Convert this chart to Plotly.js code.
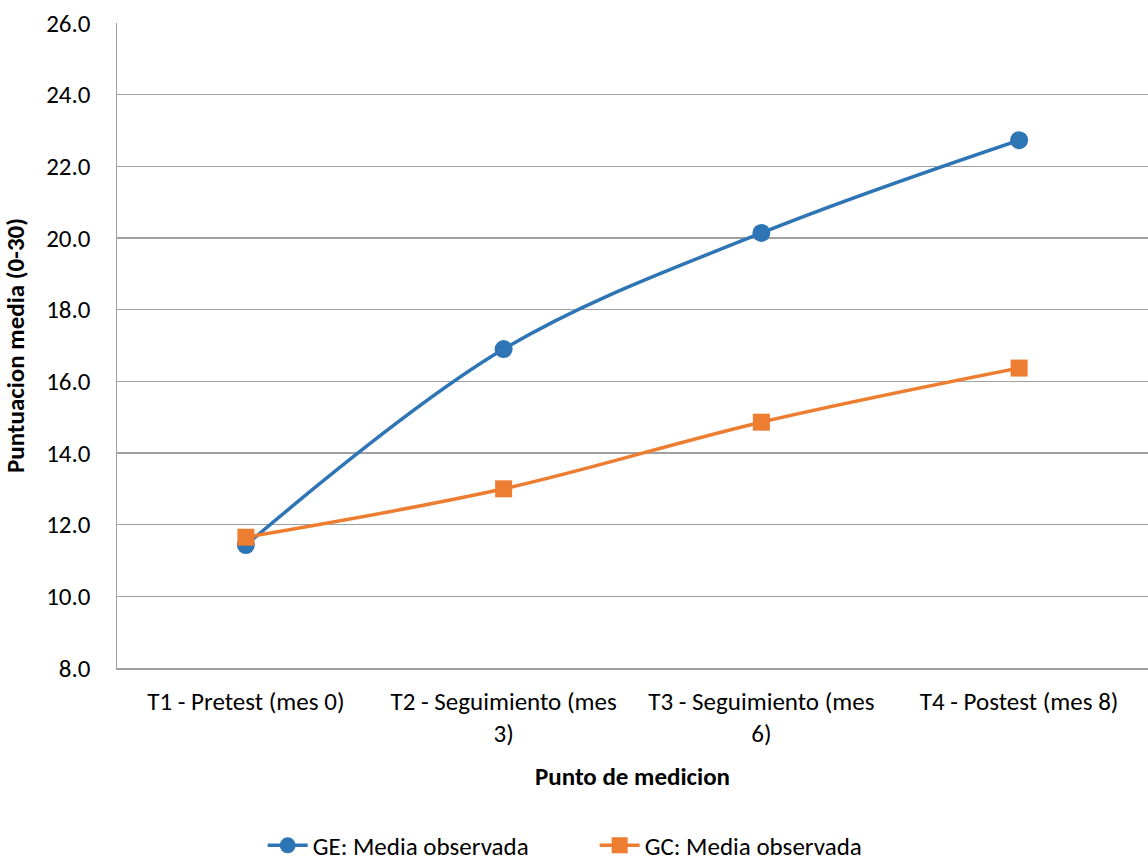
<!DOCTYPE html>
<html>
<head>
<meta charset="utf-8">
<script src="https://cdn.plot.ly/plotly-3.0.1.min.js"></script>
<style>
html,body{margin:0;padding:0;background:#fff;}
#chart{width:1148px;height:862px;}
</style>
</head>
<body>
<div id="chart"></div>
<script>
const categories = ["T1 - Pretest (mes 0)", "T2 - Seguimiento (mes<br>3)", "T3 - Seguimiento (mes<br>6)", "T4 - Postest (mes 8)"];
const geValues = [11.43, 16.90, 20.14, 22.73];
const gcValues = [11.65, 13.00, 14.86, 16.37];
const yTickVals = [8, 10, 12, 14, 16, 18, 20, 22, 24, 26];
const yTickText = ["8.0", "10.0", "12.0", "14.0", "16.0", "18.0", "20.0", "22.0", "24.0", "26.0"];

const fontFam = "Carlito, Lato, 'Open Sans', sans-serif";
const fs = 25;
const xIdx = categories.map((c, i) => i);

const traces = [
  {
    x: xIdx, y: geValues, name: "GE: Media observada",
    type: "scatter", mode: "lines+markers",
    line: {color: "#2E75B6", width: 3.5, shape: "spline", smoothing: 1},
    marker: {symbol: "circle", size: 18, color: "#2E75B6"}
  },
  {
    x: xIdx, y: gcValues, name: "GC: Media observada",
    type: "scatter", mode: "lines+markers",
    line: {color: "#ED7D31", width: 3.5, shape: "spline", smoothing: 1},
    marker: {symbol: "square", size: 17, color: "#ED7D31"}
  }
];

const layout = {
  width: 1148, height: 862,
  margin: {l: 117, r: 0, t: 23, b: 194},
  paper_bgcolor: "#fff", plot_bgcolor: "#fff",
  font: {family: fontFam, size: fs, color: "#000"},
  showlegend: true,
  legend: {
    orientation: "h", x: 0.518, xref: "container", xanchor: "center",
    y: 0.019, yref: "container", yanchor: "middle",
    font: {family: fontFam, size: fs, color: "#000"},
    itemwidth: 40, traceorder: "normal",
    entrywidth: 277, entrywidthmode: "pixels"
  },
  xaxis: {
    type: "linear", range: [-0.5, 3.5], automargin: false,
    tickmode: "array", tickvals: xIdx, ticktext: categories,
    showgrid: false, zeroline: false,
    showline: true, linecolor: "#A0A0A0", linewidth: 1.5,
    ticks: "", ticklabelstandoff: 10, tickfont: {family: fontFam, size: fs, color: "#000"},
    title: {text: "<b>Punto de medicion</b>", font: {family: fontFam, size: fs, color: "#000"}, standoff: 19}
  },
  yaxis: {
    range: [8, 26], automargin: false, tickmode: "array", tickvals: yTickVals, ticktext: yTickText,
    showgrid: true, gridcolor: "#A0A0A0", gridwidth: 1.5,
    zeroline: false, showline: true, linecolor: "#A0A0A0", linewidth: 1.5,
    ticks: "", ticklen: 0, ticklabelstandoff: 20, tickfont: {family: fontFam, size: fs, color: "#000"},
    title: {text: "<b>Puntuacion media (0-30)</b>", font: {family: fontFam, size: fs, color: "#000"}, standoff: 27}
  }
};

Plotly.newPlot("chart", traces, layout, {displayModeBar: false, staticPlot: true});
</script>
</body>
</html>
